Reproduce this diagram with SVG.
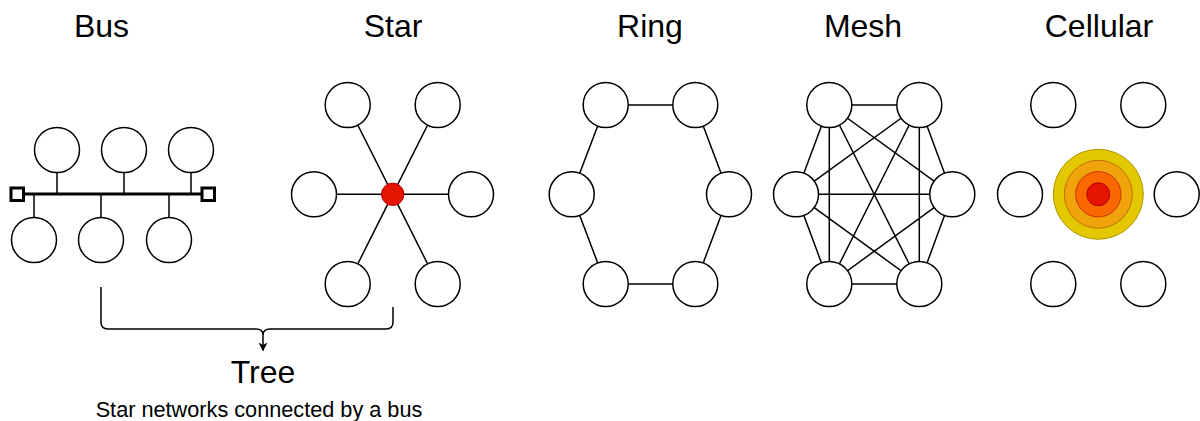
<svg xmlns="http://www.w3.org/2000/svg" width="1200" height="421" viewBox="0 0 1200 421">
<defs>
<style>
.n{fill:#fff;stroke:#000;stroke-width:1.5}
.e{stroke:#000;stroke-width:1.5;fill:none}
.t{font-family:"Liberation Sans",Arial,sans-serif;fill:#000;text-anchor:middle}
</style>
<marker id="ah" viewBox="0 0 10 10" refX="9" refY="5" markerWidth="9" markerHeight="9" markerUnits="userSpaceOnUse" orient="auto"><path d="M0,0 L10,5 L0,10 L3,5 Z" fill="#000"/></marker>
</defs>
<rect width="1200" height="421" fill="#fff"/>
<g id="titles">
<text class="t" x="101.5" y="37" font-size="32">Bus</text>
<text class="t" x="393" y="37" font-size="32">Star</text>
<text class="t" x="650" y="37" font-size="32">Ring</text>
<text class="t" x="863" y="37" font-size="32">Mesh</text>
<text class="t" x="1099" y="37" font-size="32">Cellular</text>
</g>
<g id="connectors">
<path class="e" d="M57,172V194M124,172V194M191,172V194M34,194V217M101,194V217M169,194V217"/>
<line x1="24" y1="194" x2="202" y2="194" stroke="#000" stroke-width="3"/>
<path class="e" d="M392.7,194.3L347.7,105M392.7,194.3L437.7,105M392.7,194.3L314,194.3M392.7,194.3L471,194.3M392.7,194.3L347.7,284M392.7,194.3L437.7,284"/>
<path class="e" d="M605.7,105L695.3,105L729,194.3L695.3,284L605.7,284L571.7,194.3Z"/>
<path class="e" d="M829.3,105L919.3,105M829.3,105L796,194.3M829.3,105L952.3,194.3M829.3,105L829.3,284M829.3,105L919.3,284M919.3,105L796,194.3M919.3,105L952.3,194.3M919.3,105L829.3,284M919.3,105L919.3,284M796,194.3L952.3,194.3M796,194.3L829.3,284M796,194.3L919.3,284M952.3,194.3L829.3,284M952.3,194.3L919.3,284M829.3,284L919.3,284"/>
<path class="e" d="M101,287V322Q101,329 108,329H256Q263,329 263,335Q263,329 270,329H386Q393,329 393,322V307"/>
<line class="e" x1="263" y1="335" x2="263" y2="350.5" marker-end="url(#ah)"/>
</g>
<g id="bus">
<rect x="11" y="188" width="12.5" height="12.5" fill="#fff" stroke="#000" stroke-width="3"/>
<rect x="202" y="188" width="12.5" height="12.5" fill="#fff" stroke="#000" stroke-width="3"/>
<circle class="n" cx="57" cy="150" r="22.5"/>
<circle class="n" cx="124" cy="150" r="22.5"/>
<circle class="n" cx="191" cy="150" r="22.5"/>
<circle class="n" cx="34" cy="240" r="22.5"/>
<circle class="n" cx="101" cy="240" r="22.5"/>
<circle class="n" cx="169" cy="240" r="22.5"/>
</g>
<g id="star">
<circle class="n" cx="347.7" cy="105" r="22.5"/>
<circle class="n" cx="437.7" cy="105" r="22.5"/>
<circle class="n" cx="314" cy="194.3" r="22.5"/>
<circle class="n" cx="471" cy="194.3" r="22.5"/>
<circle class="n" cx="347.7" cy="284" r="22.5"/>
<circle class="n" cx="437.7" cy="284" r="22.5"/>
<circle cx="392.7" cy="194.3" r="11.2" fill="#e51400" stroke="#b20000" stroke-width="1"/>
</g>
<g id="ring">
<circle class="n" cx="605.7" cy="105" r="22.5"/>
<circle class="n" cx="695.3" cy="105" r="22.5"/>
<circle class="n" cx="571.7" cy="194.3" r="22.5"/>
<circle class="n" cx="729" cy="194.3" r="22.5"/>
<circle class="n" cx="605.7" cy="284" r="22.5"/>
<circle class="n" cx="695.3" cy="284" r="22.5"/>
</g>
<g id="mesh">
<circle class="n" cx="829.3" cy="105" r="22.5"/>
<circle class="n" cx="919.3" cy="105" r="22.5"/>
<circle class="n" cx="796" cy="194.3" r="22.5"/>
<circle class="n" cx="952.3" cy="194.3" r="22.5"/>
<circle class="n" cx="829.3" cy="284" r="22.5"/>
<circle class="n" cx="919.3" cy="284" r="22.5"/>
</g>
<g id="cellular">
<circle class="n" cx="1053.3" cy="105" r="22.5"/>
<circle class="n" cx="1143.3" cy="105" r="22.5"/>
<circle class="n" cx="1020" cy="194.3" r="22.5"/>
<circle class="n" cx="1176.7" cy="194.3" r="22.5"/>
<circle class="n" cx="1053.3" cy="284" r="22.5"/>
<circle class="n" cx="1143.3" cy="284" r="22.5"/>
<circle cx="1098.3" cy="194.3" r="45" fill="#e3c800" stroke="#b09500" stroke-width="1"/>
<circle cx="1098.3" cy="194.3" r="34" fill="#f0a30a" stroke="#bd7000" stroke-width="1"/>
<circle cx="1098.3" cy="194.3" r="22.7" fill="#fa6800" stroke="#c73500" stroke-width="1"/>
<circle cx="1098.3" cy="194.3" r="11.5" fill="#e51400" stroke="#b20000" stroke-width="1"/>
</g>
<g id="tree">
<text class="t" x="263" y="383" font-size="32">Tree</text>
<text class="t" x="259" y="417" font-size="21.7">Star networks connected by a bus</text>
</g>
</svg>
